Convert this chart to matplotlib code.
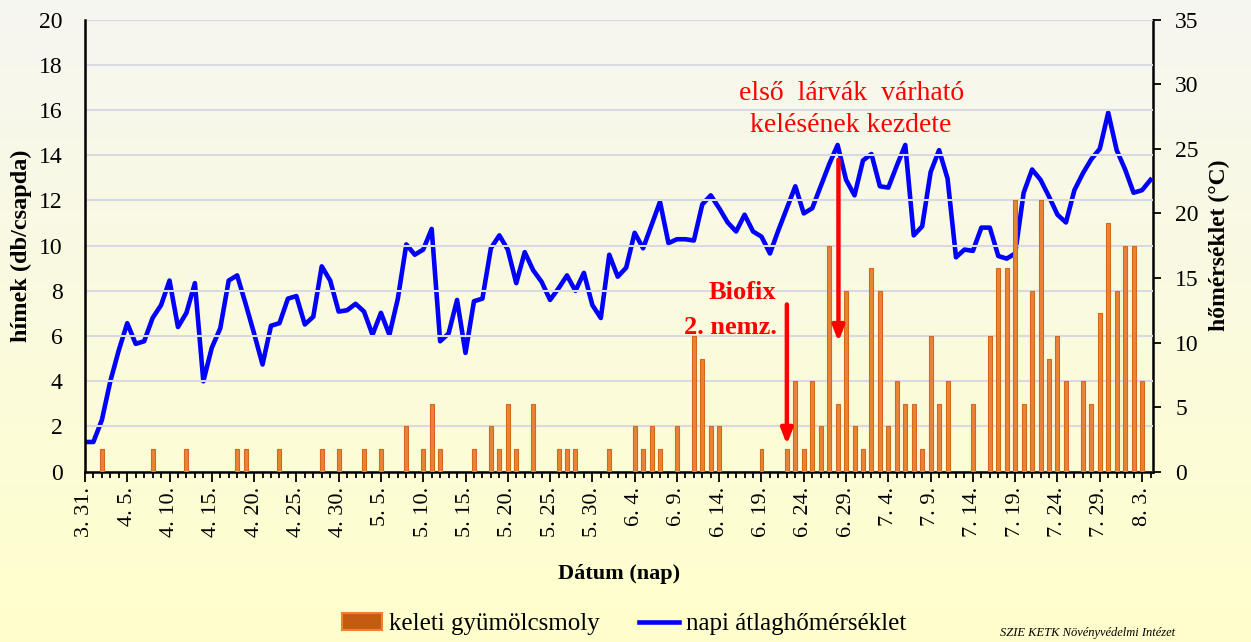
#!/usr/bin/env python3
"""Keleti gyümölcsmoly fogások és napi átlaghőmérséklet (3.31. - 8.4.)."""

import numpy as np
import pandas as pd
import matplotlib
matplotlib.use('Agg')
import matplotlib.pyplot as plt
from matplotlib.patches import Patch
from matplotlib.lines import Line2D
from matplotlib.ticker import MultipleLocator, FixedLocator

# daily data, first day = 03.31.
start_date = '2011-03-31'

# hímek (db/csapda), one value per day from 3.31. to 8.3.
moth_counts = [
    0, 0, 1, 0, 0, 0, 0, 0, 1, 0, 0, 0, 1, 0, 0, 0, 0, 0, 1, 1,
    0, 0, 0, 1, 0, 0, 0, 0, 1, 0, 1, 0, 0, 1, 0, 1, 0, 0, 2, 0,
    1, 3, 1, 0, 0, 0, 1, 0, 2, 1, 3, 1, 0, 3, 0, 0, 1, 1, 1, 0,
    0, 0, 1, 0, 0, 2, 1, 2, 1, 0, 2, 0, 6, 5, 2, 2, 0, 0, 0, 0,
    1, 0, 0, 1, 4, 1, 4, 2, 10, 3, 8, 2, 1, 9, 8, 2, 4, 3, 3, 1,
    6, 3, 4, 0, 0, 3, 0, 6, 9, 9, 12, 3, 8, 12, 5, 6, 4, 0, 4, 3,
    7, 11, 8, 10, 10, 4,
]

# napi átlaghőmérséklet (°C), 3.31. to 8.4.
mean_temp = [
    2.3, 2.3, 4.0, 7.0, 9.4, 11.5, 9.9, 10.1, 11.9, 12.9,
    14.8, 11.2, 12.3, 14.6, 7.0, 9.6, 11.1, 14.8, 15.2, 13.0,
    10.7, 8.3, 11.3, 11.5, 13.4, 13.6, 11.4, 12.0, 15.9, 14.8,
    12.4, 12.5, 13.0, 12.4, 10.6, 12.3, 10.6, 13.4, 17.6, 16.8,
    17.2, 18.8, 10.1, 10.7, 13.3, 9.2, 13.2, 13.4, 17.3, 18.3,
    17.2, 14.6, 17.0, 15.6, 14.7, 13.3, 14.2, 15.2, 14.0, 15.4,
    12.9, 11.9, 16.8, 15.1, 15.8, 18.5, 17.3, 19.1, 20.9, 17.7,
    18.0, 18.0, 17.9, 20.7, 21.4, 20.4, 19.3, 18.6, 19.9, 18.6,
    18.2, 16.9, 18.7, 20.4, 22.1, 20.0, 20.4, 22.1, 23.8, 25.3,
    22.6, 21.4, 24.1, 24.6, 22.1, 22.0, 23.7, 25.3, 18.3, 19.0,
    23.2, 24.9, 22.7, 16.6, 17.2, 17.1, 18.9, 18.9, 16.7, 16.5,
    16.9, 21.6, 23.4, 22.6, 21.3, 19.9, 19.3, 21.8, 23.1, 24.2,
    25.0, 27.8, 24.9, 23.4, 21.6, 21.8, 22.6,
]

bar_label = 'keleti gyümölcsmoly'
line_label = 'napi átlaghőmérséklet'

SERIF = ['Liberation Serif', 'DejaVu Serif']


def main():
    plt.rcParams['font.family'] = SERIF

    dates = pd.date_range(start_date, periods=len(mean_temp), freq='D')
    x_bar = np.arange(len(moth_counts))
    x_line = np.arange(len(mean_temp))
    tick_idx = np.arange(0, len(moth_counts), 5)
    tick_labels = [f'{dates[i].month}. {dates[i].day}.' for i in tick_idx]

    fig = plt.figure(figsize=(12.51, 6.42), dpi=100)

    # background gradient (light grey at top -> pale yellow at bottom)
    bg = fig.add_axes([0, 0, 1, 1], zorder=-10)
    grad = np.linspace(0, 1, 256)[:, None]
    top = np.array([0.965, 0.965, 0.945])
    bottom = np.array([1.0, 1.0, 0.80])
    img = top[None, None, :] * (1 - grad[:, :, None]) + bottom[None, None, :] * grad[:, :, None]
    bg.imshow(img, aspect='auto', extent=[0, 1, 0, 1])
    bg.axis('off')

    ax = fig.add_axes([0.0679, 0.2653, 0.8538, 0.7040])
    ax.set_facecolor('none')

    ax.bar(x_bar, moth_counts, width=0.47, color='#EC8235',
           edgecolor='#D2691E', linewidth=0.8, zorder=3)

    ax.set_ylim(0, 20)
    ax.set_xlim(0, 126.3)
    ax.yaxis.set_major_locator(MultipleLocator(2))
    ax.grid(axis='y', color='#D9D9E3', linewidth=1.5, zorder=0)
    ax.set_axisbelow(True)

    ax.xaxis.set_major_locator(FixedLocator(tick_idx))
    ax.xaxis.set_minor_locator(MultipleLocator(1))
    ax.set_xticklabels(tick_labels, rotation=90)
    ax.tick_params(axis='x', which='major', length=7, width=1.3,
                   labelsize=16, pad=4, direction='out')
    ax.tick_params(axis='x', which='minor', length=4, width=1.3, direction='out')
    ax.tick_params(axis='y', length=0, pad=16, labelsize=17)

    for side in ['left', 'bottom']:
        ax.spines[side].set_linewidth(1.8)
    ax.spines['top'].set_visible(False)
    ax.spines['right'].set_visible(False)

    ax.set_ylabel('hímek (db/csapda)', fontsize=17.5, fontweight='bold', labelpad=5)
    ax.set_xlabel('Dátum (nap)', fontsize=16, fontweight='bold', labelpad=19)

    # temperature on secondary axis
    ax2 = ax.twinx()
    ax2.plot(x_line, mean_temp, color='#0000FF', linewidth=3.3,
             solid_joinstyle='round', zorder=4)
    ax2.set_ylim(0, 35)
    ax2.yaxis.set_major_locator(MultipleLocator(5))
    ax2.tick_params(axis='y', length=6, width=1.3, pad=10, labelsize=17)
    ax2.spines['right'].set_linewidth(1.8)
    ax2.spines['top'].set_visible(False)
    ax2.spines['left'].set_visible(False)
    ax2.spines['bottom'].set_visible(False)
    ax2.set_ylabel('hőmérséklet (°C)', fontsize=17, fontweight='bold', labelpad=7)

    # annotations (left-axis units)
    arrow_kw = dict(arrowstyle='-|>,head_length=0.9,head_width=0.35',
                    color='#FF0000', lw=3.2, shrinkA=0, shrinkB=0)
    ax.annotate('', xy=(83.0, 1.2), xytext=(83.0, 7.4),
                arrowprops=arrow_kw, zorder=6, annotation_clip=False)
    ax.annotate('', xy=(89.1, 5.75), xytext=(89.1, 13.8),
                arrowprops=arrow_kw, zorder=6, annotation_clip=False)
    ax.text(81.7, 7.95, 'Biofix', color='#FF0000', fontsize=19,
            fontweight='bold', ha='right', va='center', zorder=7)
    ax.text(81.8, 6.4, '2. nemz.', color='#FF0000', fontsize=19,
            fontweight='bold', ha='right', va='center', zorder=7)
    ax.text(90.6, 16.75, 'első  lárvák  várható', color='#FF0000', fontsize=20,
            ha='center', va='center', zorder=7)
    ax.text(90.6, 15.3, 'kelésének kezdete', color='#FF0000', fontsize=20,
            ha='center', va='center', zorder=7)
    # keep annotations above the line
    ax.set_zorder(ax2.get_zorder() + 1)
    ax.patch.set_visible(False)

    handles = [Patch(facecolor='#C55A11', edgecolor='#F08030', linewidth=1.5),
               Line2D([0], [0], color='#0000FF', linewidth=3.3)]
    fig.legend(handles, [bar_label, line_label], loc='center',
               bbox_to_anchor=(0.499, 0.028), ncol=2, frameon=False,
               fontsize=18, handlelength=1.6, handletextpad=0.25,
               columnspacing=1.6, handleheight=0.7)

    fig.text(1000 / 1251, 0.004, 'SZIE KETK Növényvédelmi Intézet',
             fontsize=9, style='italic', ha='left', va='bottom')

    fig.savefig('out.png', dpi=100)


if __name__ == '__main__':
    main()
